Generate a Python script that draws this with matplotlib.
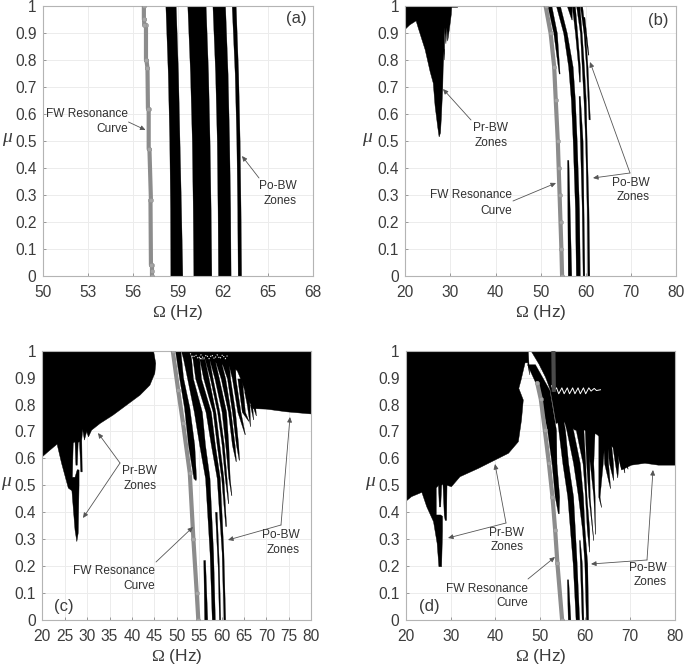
import matplotlib
matplotlib.use('Agg')
import matplotlib.pyplot as plt
from matplotlib.patches import FancyArrowPatch

plt.rcParams['font.family'] = ['Liberation Sans', 'DejaVu Sans']
plt.rcParams['mathtext.fontset'] = 'custom'
plt.rcParams['mathtext.rm'] = 'Liberation Serif'
plt.rcParams['mathtext.it'] = 'Liberation Serif:italic'

W, H = 685, 667
TXT = '#3c3c3c'

# ---- panel a ----
a_fw_mu = [0, .02, .04, .04, .28, .28, .47, .47, .62, .62, .77, .77, .80, .80, .93, .93, .95, .95, 1]
a_fw_om = [57.27, 57.27, 57.27, 57.2, 57.17, 57.2, 57.1, 57.05, 57.05, 57.0, 56.97, 56.97, 56.9, 56.87, 56.87, 56.75, 56.75, 56.73, 56.73]
a_mu = [0, .25, .5, .75, 1]
a_bands = [
    (a_mu, [58.49, 58.47, 58.42, 58.32, 58.16], [59.29, 59.2, 59.1, 59.0, 58.85]),
    (a_mu, [60.02, 59.98, 59.92, 59.8, 59.62], [61.22, 61.17, 61.1, 61.0, 60.84]),
    (a_mu, [61.66, 61.63, 61.58, 61.47, 61.29], [62.5, 62.47, 62.4, 62.3, 62.13]),
    (a_mu, [62.97, 62.94, 62.88, 62.77, 62.57], [63.2, 63.16, 63.1, 63.0, 62.84]),
]

# ---- panel b ----
b_fw_mu = [0, .1, .2, .3, .4, .5, .65, .775, .9, 1]
b_fw_om = [54.75, 54.6, 54.4, 54.2, 54.0, 53.8, 53.35, 53.0, 52.2, 51.1]
b_pr_om = [20, 20, 21, 22.4, 22.9, 23.6, 24.4, 25.5, 26.2, 26.6, 27.2, 27.5, 27.8, 28, 28.3, 28.4, 28.6, 28.7, 28.7, 29, 29.2, 29.4, 29.9, 30.2, 30.3, 30.3, 31.6, 31.6]
b_pr_mu = [1, .914, .93, .945, .917, .88, .838, .757, .714, .63, .55, .515, .53, .59, .70, .775, .84, .80, .92, .86, .92, .87, .93, .97, 1, .995, .995, 1]
b_bands = [
    ([1, .9, .75], [51.5, 52.8, 54.0], [52.4, 53.6, 54.2]),
    ([0, .43], [56.0, 55.85], [56.8, 56.15]),
    ([0, .25, .5, .65, .775, .9, 1], [57.8, 57.6, 57.1, 56.7, 56.1, 55, 53.4], [58.7, 58.5, 58, 57.6, 57.1, 55.8, 54.3]),
    ([1, .95], [55.8, 56.8], [56.9, 56.9]),
    ([1, .9, .775, .72], [56.9, 57.6, 58.3, 58.5], [57.6, 58.1, 58.7, 58.7]),
    ([0, .25, .5, .667], [59.3, 59.1, 58.7, 58.4], [59.7, 59.5, 59.3, 58.7]),
    ([0, .25, .5, .65, .775, .9, 1], [60.35, 60.2, 59.85, 59.5, 59.1, 58.7, 57.85], [60.8, 60.6, 60.2, 60, 59.6, 59.1, 58.6]),
    ([1, .9, .775, .58], [58.7, 59.5, 60.05, 60.6], [59.2, 59.85, 60.4, 60.9]),
    ([.96, .82], [59.3, 60.45], [59.7, 60.6]),
]

# ---- panel c ----
c_fw_mu = [0, .1, .3, .545, .73, .854, 1]
c_fw_om = [54.8, 54.45, 53.7, 52.9, 51.4, 50.3, 49.1]
c_pr_om = [20, 20, 21.3, 22.8, 23.3, 24.3, 25.8, 26.6, 27.3, 27.7, 28, 28.2, 28.2, 27.8, 27.3, 26.7, 26.9, 27.3, 27.5, 27.8, 28, 28.3, 28.6, 28.9, 28.8, 29, 29.4, 29.9, 30.3, 31, 32.9, 35.8, 38.8, 41.8, 44, 45.1, 45.3, 44.8]
c_pr_mu = [1, .606, .625, .646, .653, .582, .49, .48, .334, .291, .322, .501, .557, .558, .53, .53, .657, .662, .575, .575, .66, .662, .55, .55, .668, .708, .668, .70, .68, .705, .73, .761, .798, .835, .872, .916, .953, 1]
c_mass_om = [51.5, 53, 56, 60, 62.5, 63.5, 64.5, 65.6, 66.5, 67, 70, 74.5, 80, 80]
c_mass_mu = [1, .985, .97, .95, .94, .925, .885, .83, .80, .785, .783, .773, .765, 1]
c_spec_om = [53, 53.6, 54.2, 54.8, 55.4, 56, 56.6, 57.2, 57.8, 58.4, 59, 59.6, 60.2, 60.8, 61.4]
c_spec_mu = [.99, .975, .985, .97, .985, .97, .985, .97, .985, .97, .985, .97, .985, .97, .985]
c_bands = [
    ([1, .9, .79, .65, .527, .52], [49.6, 50.5, 51.6, 52.5, 53.7, 54.1], [50.8, 51.4, 52.8, 53.9, 54.3, 54.2]),
    ([0, .223], [56.1, 55.9], [56.8, 56.3]),
    ([0, .25, .527, .65, .773, .897, .97, 1], [57.8, 57.3, 56.3, 55, 53.8, 52.3, 51.4, 50.9], [58.5, 58.1, 57.3, 56.3, 55.6, 53.6, 53.2, 52.8]),
    ([0, .2, .402], [59.4, 59.1, 58.5], [59.7, 59.4, 58.9]),
    ([0, .25, .527, .65, .773, .897, .97, 1], [60.4, 60, 58.9, 57.6, 56.4, 54.1, 53.5, 52.8], [60.8, 60.4, 59.6, 58.5, 57.6, 55.4, 55, 54.5]),
    ([.349, .527, .65, .773, .897, .97], [60.8, 59.9, 58.9, 58, 55.9, 55], [61, 60.4, 59.5, 58.6, 57.1, 56.2]),
    ([.434, .527, .65, .773, .897, .97], [61.4, 60.7, 60, 59.0, 57.4, 56.2], [61.5, 61.1, 60.5, 59.5, 58.0, 57.2]),
    ([.464, .527, .65, .773, .897, .97], [62.1, 61.5, 60.8, 60.0, 58.4, 57.2], [62.2, 61.8, 61.5, 61, 59.4, 58.4]),
    ([.59, .65, .773, .897, .97], [63.1, 62.3, 61.4, 59.8, 58.4], [63.2, 62.9, 62, 60.8, 59.7]),
    ([.595, .65, .773, .897, .97], [63.8, 63.2, 62.3, 61.2, 59.7], [63.9, 63.7, 63, 61.9, 61.5]),
    ([.69, .773, .897, .95], [65.1, 63.5, 62.3, 61.5], [65.2, 64.2, 63.1, 63]),
    ([.74, .773, .897], [65.9, 64.5, 63.5], [66, 65.2, 64.5]),
    ([.72, .8, .85], [66.3, 65.6, 65], [66.35, 66.2, 66]),
    ([.745, .8], [67, 66.3], [67.05, 66.8]),
    ([.76, .79], [67.6, 67], [67.65, 67.5]),
]

# ---- panel d ----
d_fw_mu = [0, .21, .334, .458, .582, .705, .82, .88]
d_fw_om = [54.85, 53.8, 53.3, 52.7, 51.9, 51.0, 50.1, 49.3]
d_fw2_mu = [.855, 1]
d_fw2_om = [53.0, 52.9]
d_pr_om = [20, 20, 21.3, 23.6, 24.7, 26.2, 27, 27.4, 28, 28.2, 28.2, 27.8, 27.4, 26.8, 26.8, 27.3, 27.5, 27.8, 28, 28.3, 28.6, 28.8, 29.1, 29.2, 30.2, 32.1, 36.2, 39.9, 42.9, 45.1, 45.8, 46.2, 45.2, 45.7, 46.6, 47.2, 47.6, 47.3]
d_pr_mu = [1, .44, .458, .474, .42, .365, .285, .198, .198, .33, .385, .39, .39, .39, .49, .5, .42, .42, .5, .505, .39, .37, .37, .5, .495, .532, .563, .594, .619, .662, .743, .817, .86, .891, .955, .955, .91, 1]
d_mass_om = [47.9, 49.7, 51.2, 52.2, 52.8, 53.5, 55, 57.7, 59.9, 62.5, 64.8, 67, 68.1, 70.3, 73.3, 76.3, 80, 80]
d_mass_mu = [1, .95, .9, .855, .8, .73, .74, .705, .705, .69, .66, .63, .557, .575, .582, .575, .575, 1]
d_spec_om = [52.5, 53, 53.6, 54.1, 54.8, 55.3, 56, 56.5, 57.2, 57.7, 58.4, 58.9, 59.6, 60.1, 60.8, 61.3, 62, 62.5, 63.4]
d_spec_mu = [.87, .85, .862, .84, .862, .84, .862, .84, .862, .84, .862, .84, .862, .84, .862, .85, .86, .852, .855]
d_bands = [
    ([.396, .458, .582, .705, .855, .95], [53.9, 53.2, 52.5, 51.5, 49.6, 47.0], [54.1, 54.2, 53.6, 53.5, 52.0, 48.8]),
    ([0, .151], [56.1, 55.9], [56.7, 56.2]),
    ([0, .21, .334, .458, .582, .705, .745], [57.85, 57.2, 56.6, 56, 54.9, 54, 53.7], [58.65, 58.1, 57.7, 57.3, 56.2, 55.5, 55.1]),
    ([0, .21, .297], [59.2, 58.8, 58.6], [59.6, 59.25, 58.8]),
    ([0, .21, .334, .458, .582, .705, .75], [60.15, 59.8, 59.3, 58.4, 57.3, 55.8, 55.1], [60.65, 60.45, 59.85, 59.5, 58.8, 57.3, 56.5]),
    ([.254, .334, .458, .582, .705, .72], [60.85, 60.35, 59.95, 59.4, 57.9, 57.7], [60.9, 60.9, 60.3, 60, 59.6, 59.5]),
    ([.297, .458, .582, .705, .72], [61.75, 60.7, 60.2, 59.9, 59.8], [61.8, 61, 60.9, 61, 61]),
    ([.32, .458, .582, .705, .72], [62.15, 61.8, 61, 60.3, 60.2], [62.2, 62.1, 61.8, 62.1, 62.1]),
    ([.42, .458, .582, .705], [63.5, 62.9, 62.9, 62.9], [63.55, 63.2, 63.9, 64.4]),
    ([.49, .582, .705], [65.5, 64.2, 63.9], [65.55, 65.1, 64.9]),
    ([.52, .582, .68], [66.2, 65.3, 64.7], [66.25, 66.2, 65.6]),
    ([.53, .582, .65], [67.1, 66.6, 66], [67.15, 67.4, 67]),
    ([.563, .6], [68, 67.5], [68.05, 68.2]),
    ([.548, .58], [68.7, 68.2], [68.75, 68.6]),
    ([.562, .58], [69.4, 68.9], [69.45, 69.3]),
]

X_TICKS_A = [50, 53, 56, 59, 62, 65, 68]
X_TICKS_BD = [20, 30, 40, 50, 60, 70, 80]
X_TICKS_C = list(range(20, 85, 5))
Y_TICKS = [0, .1, .2, .3, .4, .5, .6, .7, .8, .9, 1]


def fp(x, y):
    # picture pixels to figure fraction
    return x / W, 1 - y / H


def make_axes(fig, x0, x1, y0, y1, xlim, xticks):
    ax = fig.add_axes([x0 / W, 1 - y1 / H, (x1 - x0) / W, (y1 - y0) / H])
    ax.set_xlim(xlim)
    ax.set_ylim(0, 1)
    ax.set_xticks(xticks)
    ax.set_yticks(Y_TICKS)
    ax.set_yticklabels(['0', '0.1', '0.2', '0.3', '0.4', '0.5', '0.6', '0.7', '0.8', '0.9', '1'])
    ax.tick_params(direction='in', length=2.5, width=0.5, color='#777777', labelcolor=TXT, labelsize=11.2)
    ax.tick_params(axis='x', pad=6.5)
    ax.tick_params(axis='y', pad=4.5)
    ax.grid(True, color='#ececec', lw=0.7)
    ax.set_axisbelow(True)
    for s in ax.spines.values():
        s.set_color('#b4b4b4')
        s.set_linewidth(0.8)
    return ax


def draw_bands(ax, bands):
    for mu, left, right in bands:
        ax.fill_betweenx(mu, left, right, color='black', lw=0.2, zorder=2)


def draw_fw(ax, om, mu, lw=3.0):
    ax.plot(om, mu, color='#8c8c8c', lw=lw, marker='o', ms=lw, mfc='#a5a5a5', mew=0.3, zorder=4, solid_capstyle='round')


def note(fig, lines, right, ys, arrows):
    for line, y in zip(lines, ys):
        fig.text(*fp(right, y), line, ha='right', va='center', fontsize=8.6, color='#303030')
    for start, end in arrows:
        fig.add_artist(FancyArrowPatch(
            fp(*start), fp(*end), transform=fig.transFigure, arrowstyle='-|>,head_length=3,head_width=1.4',
            color='#555555', lw=0.6, shrinkA=0, shrinkB=0, zorder=10))


def labels(fig, ax, xlab_y, ylab_x, ylab_y, tag, tag_xy):
    cx = (ax.get_position().x0 + ax.get_position().x1) / 2
    fig.text(cx, 1 - xlab_y / H, r'$\mathrm{\Omega}$ (Hz)', ha='center', va='center', fontsize=12.5, color=TXT)
    fig.text(ylab_x / W, 1 - ylab_y / H, r'$\mu$', ha='center', va='center', fontsize=14, color=TXT)
    fig.text(*fp(*tag_xy), tag, ha='center', va='center', fontsize=12, color=TXT, zorder=11)


fig = plt.figure(figsize=(W / 100, H / 100), dpi=100)

# (a)
ax = make_axes(fig, 42.7, 313.3, 6, 276, (50, 68), X_TICKS_A)
draw_bands(ax, a_bands)
draw_fw(ax, a_fw_om, a_fw_mu)
labels(fig, ax, 313, 8, 140, '(a)', (296, 19))
note(fig, ['FW Resonance', 'Curve'], 128, [114, 129], [((128.5, 122), (145.5, 130))])
note(fig, ['Po-BW', 'Zones'], 297, [186, 201], [((259, 178), (242, 156))])

# (b)
ax = make_axes(fig, 405.3, 676, 6, 276, (20, 80), X_TICKS_BD)
ax.fill(b_pr_om, b_pr_mu, color='black', lw=0.3, zorder=2)
draw_bands(ax, b_bands)
draw_fw(ax, b_fw_om, b_fw_mu)
labels(fig, ax, 313, 368, 140, '(b)', (658, 20))
note(fig, ['Pr-BW', 'Zones'], 508, [128, 143], [((471, 120), (443, 89))])
note(fig, ['FW Resonance', 'Curve'], 512, [195, 211], [((513, 201), (556, 183))])
note(fig, ['Po-BW', 'Zones'], 650, [183, 197], [((630, 173), (590, 62)), ((630, 173), (593, 178))])

# (c)
ax = make_axes(fig, 42.3, 311.3, 350.7, 620, (20, 80), X_TICKS_C)
ax.fill(c_pr_om, c_pr_mu, color='black', lw=0.3, zorder=2)
ax.fill(c_mass_om, c_mass_mu, color='black', lw=0.3, zorder=2)
draw_bands(ax, c_bands)
ax.plot(c_spec_om, c_spec_mu, color='white', lw=0.8, ls=':', zorder=3)
draw_fw(ax, c_fw_om, c_fw_mu)
labels(fig, ax, 657, 7, 484, '(c)', (64, 607))
note(fig, ['Pr-BW', 'Zones'], 157, [471, 486], [((120, 463), (98, 433)), ((120, 463), (83, 518))])
note(fig, ['FW Resonance', 'Curve'], 155, [571, 586], [((156, 562), (193, 527))])
note(fig, ['Po-BW', 'Zones'], 300, [535, 550], [((281, 525), (290, 417)), ((281, 525), (228, 540))])

# (d)
ax = make_axes(fig, 405.7, 675, 350.7, 620, (20, 80), X_TICKS_BD)
ax.fill(d_pr_om, d_pr_mu, color='black', lw=0.3, zorder=2)
ax.fill(d_mass_om, d_mass_mu, color='black', lw=0.3, zorder=2)
draw_bands(ax, d_bands)
ax.plot(d_spec_om, d_spec_mu, color='white', lw=0.7, zorder=3)
draw_fw(ax, d_fw_om, d_fw_mu)
ax.plot(d_fw2_om, d_fw2_mu, color='#4a4a4a', lw=3.0, zorder=4)
labels(fig, ax, 657, 371, 484, '(d)', (429, 607))
note(fig, ['Pr-BW', 'Zones'], 524, [533, 547], [((506, 523), (495, 464)), ((506, 523), (448, 538))])
note(fig, ['FW Resonance', 'Curve'], 528, [589, 603], [((528, 579), (555, 557))])
note(fig, ['Po-BW', 'Zones'], 667, [568, 582], [((647, 560), (653, 470)), ((647, 560), (591, 564))])

fig.savefig('out.png', dpi=100)
